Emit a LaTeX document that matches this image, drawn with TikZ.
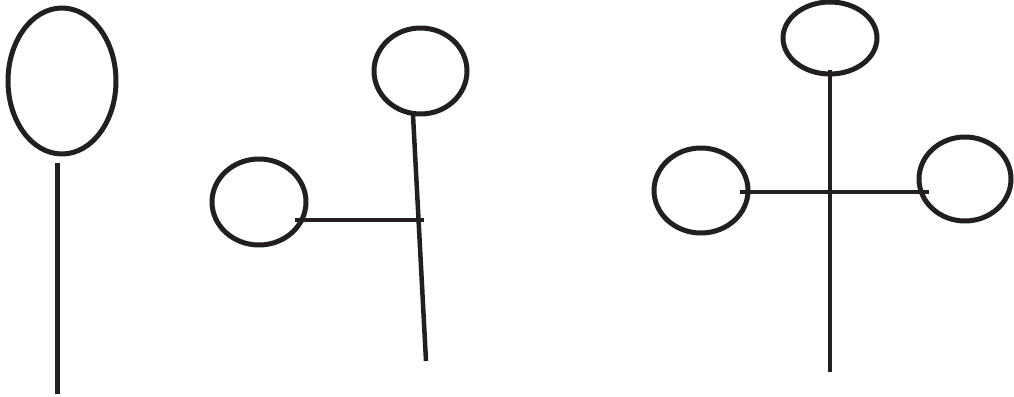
\documentclass[tikz,border=0pt]{standalone}
\definecolor{stickInk}{HTML}{231F20}
\usepackage{tikz}
\usetikzlibrary{shapes.geometric}

\begin{document}
\begin{tikzpicture}[x=0.02cm,y=-0.02cm,
		blob/.style={ellipse, draw=stickInk, line width=0.1cm, inner sep=0pt},
		stick/.style={draw=stickInk, line width=0.09cm}]
		\useasboundingbox (0,0) rectangle (1014,396);
		% one arm
		\node[blob, minimum width=2.16cm, minimum height=2.92cm] (oneHead) at (62,81) {};
		\coordinate (oneTop) at (57.5,163);
		\coordinate (oneFoot) at (57.5,394);
		\draw[stick] (oneTop) -- (oneFoot);
		% two arms
		\node[blob, minimum width=1.86cm, minimum height=1.72cm] (twoHead) at (420.5,71) {};
		\node[blob, minimum width=1.88cm, minimum height=1.72cm] (twoSide) at (259,202) {};
		\coordinate (twoTop) at (413,115);
		\coordinate (twoFoot) at (426,361);
		\coordinate (twoLeft) at (295,220);
		\coordinate (twoRight) at (424,220);
		\draw[stick] (twoTop) -- (twoFoot);
		\draw[stick] (twoLeft) -- (twoRight);
		% three arms
		\node[blob, minimum width=1.88cm, minimum height=1.44cm] (threeHead) at (830,38) {};
		\node[blob, minimum width=1.88cm, minimum height=1.70cm] (threeWest) at (701,190.5) {};
		\node[blob, minimum width=1.84cm, minimum height=1.68cm] (threeEast) at (965,179) {};
		\coordinate (threeTop) at (830,70);
		\coordinate (threeFoot) at (830,372);
		\coordinate (threeLeft) at (740,192);
		\coordinate (threeRight) at (929,192);
		\draw[stick] (threeTop) -- (threeFoot);
		\draw[stick] (threeLeft) -- (threeRight);
	\end{tikzpicture}
\end{document}
